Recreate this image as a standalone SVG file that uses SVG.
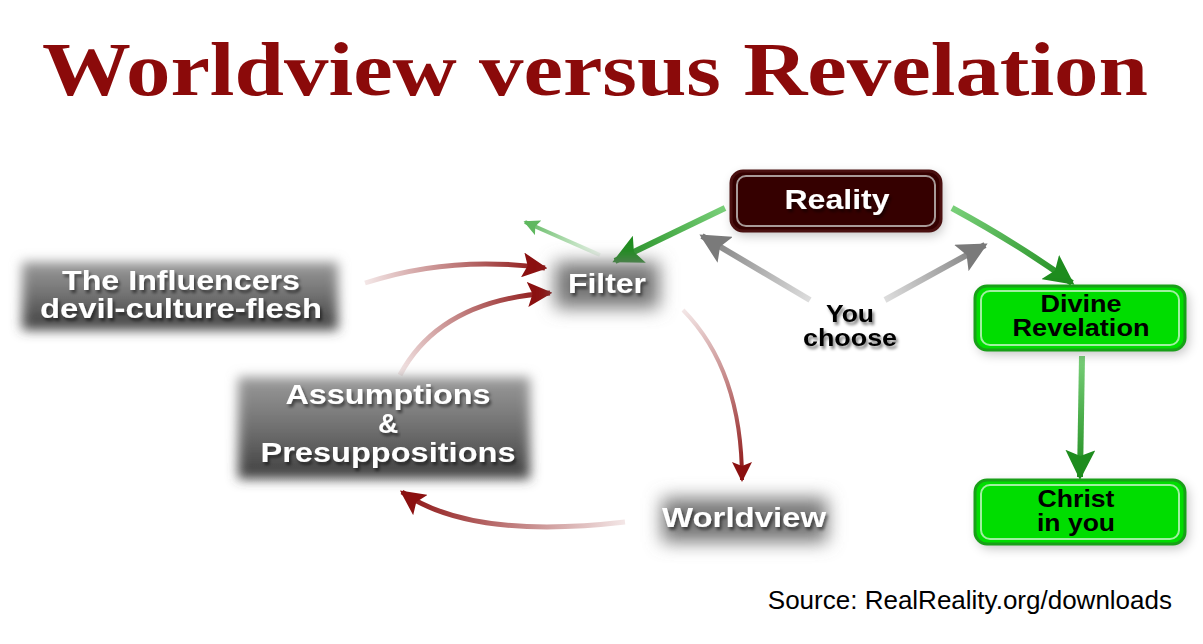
<svg xmlns="http://www.w3.org/2000/svg" width="1203" height="644" viewBox="0 0 1203 644">
<style>
.lbl{font-family:"Liberation Sans",Arial,sans-serif;font-weight:bold;text-anchor:middle}
.w{fill:#fff;font-size:28px}
.b{fill:#000;font-size:23px}
</style>
<defs>
<filter id="blur" x="-20%" y="-30%" width="140%" height="160%"><feGaussianBlur stdDeviation="6"/></filter>
<filter id="blur2" x="-30%" y="-50%" width="160%" height="200%"><feGaussianBlur stdDeviation="9"/></filter>
<filter id="ts" x="-10%" y="-30%" width="120%" height="160%"><feDropShadow dx="2" dy="3" stdDeviation="1.5" flood-color="#000" flood-opacity="0.5"/></filter>
<linearGradient id="gbox" x1="0" y1="0" x2="0" y2="1"><stop offset="0" stop-color="#9a9a9a"/><stop offset="0.5" stop-color="#707070"/><stop offset="1" stop-color="#3e3e3e"/></linearGradient>
<marker id="hg" viewBox="0 0 10 10" refX="9" refY="5" markerWidth="5" markerHeight="5" orient="auto" markerUnits="strokeWidth"><path d="M0,0 L10,5 L0,10 L2,5 Z" fill="#1e8c1e"/></marker>
<marker id="hgl" viewBox="0 0 10 10" refX="9" refY="5" markerWidth="4" markerHeight="4" orient="auto" markerUnits="strokeWidth"><path d="M0,0 L10,5 L0,10 L2,5 Z" fill="#5fb85f"/></marker>
<marker id="hy" viewBox="0 0 10 10" refX="9" refY="5" markerWidth="5" markerHeight="5" orient="auto" markerUnits="strokeWidth"><path d="M0,0 L10,5 L0,10 L2,5 Z" fill="#7a7a7a"/></marker>
<marker id="hr" viewBox="0 0 10 10" refX="9" refY="5" markerWidth="5" markerHeight="5" orient="auto" markerUnits="strokeWidth"><path d="M0,0 L10,5 L0,10 L2,5 Z" fill="#8b1010"/></marker>
<linearGradient id="g1" gradientUnits="userSpaceOnUse" x1="725" y1="208" x2="615" y2="262"><stop offset="0" stop-color="#7ad07a"/><stop offset="1" stop-color="#1e8c1e"/></linearGradient>
<linearGradient id="g2" gradientUnits="userSpaceOnUse" x1="600" y1="255" x2="525" y2="222"><stop offset="0" stop-color="#5fb85f" stop-opacity="0.1"/><stop offset="1" stop-color="#5fb85f"/></linearGradient>
<linearGradient id="g3" gradientUnits="userSpaceOnUse" x1="952" y1="208" x2="1072" y2="283"><stop offset="0" stop-color="#7ad07a"/><stop offset="1" stop-color="#1e8c1e"/></linearGradient>
<linearGradient id="g4" gradientUnits="userSpaceOnUse" x1="0" y1="355" x2="0" y2="478"><stop offset="0" stop-color="#7ad07a"/><stop offset="1" stop-color="#1e8c1e"/></linearGradient>
<linearGradient id="y1" gradientUnits="userSpaceOnUse" x1="810" y1="300" x2="702" y2="236"><stop offset="0" stop-color="#ddd"/><stop offset="1" stop-color="#7a7a7a"/></linearGradient>
<linearGradient id="y2" gradientUnits="userSpaceOnUse" x1="885" y1="300" x2="985" y2="245"><stop offset="0" stop-color="#ddd"/><stop offset="1" stop-color="#7a7a7a"/></linearGradient>
<linearGradient id="r1" gradientUnits="userSpaceOnUse" x1="365" y1="283" x2="545" y2="268"><stop offset="0" stop-color="#8b1010" stop-opacity="0.1"/><stop offset="1" stop-color="#8b1010"/></linearGradient>
<linearGradient id="r2" gradientUnits="userSpaceOnUse" x1="400" y1="375" x2="550" y2="293"><stop offset="0" stop-color="#8b1010" stop-opacity="0.1"/><stop offset="1" stop-color="#8b1010"/></linearGradient>
<linearGradient id="r3" gradientUnits="userSpaceOnUse" x1="683" y1="310" x2="742" y2="480"><stop offset="0" stop-color="#8b1010" stop-opacity="0.1"/><stop offset="1" stop-color="#8b1010"/></linearGradient>
<linearGradient id="r4" gradientUnits="userSpaceOnUse" x1="625" y1="522" x2="402" y2="492"><stop offset="0" stop-color="#8b1010" stop-opacity="0.1"/><stop offset="1" stop-color="#8b1010"/></linearGradient>
</defs>
<rect width="1203" height="644" fill="#fff"/>
<text x="595" y="95" font-family="'Liberation Serif','Times New Roman',serif" font-weight="bold" font-size="76" fill="#8b0a0a" text-anchor="middle" textLength="1106" lengthAdjust="spacingAndGlyphs">Worldview versus Revelation</text>

<g id="connectors" fill="none">
<path d="M725,208 L615,261" stroke="url(#g1)" stroke-width="6" marker-end="url(#hg)"/>
<path d="M600,255 L525,222" stroke="url(#g2)" stroke-width="4" marker-end="url(#hgl)"/>
<path d="M952,208 Q1020,245 1072,283" stroke="url(#g3)" stroke-width="6" marker-end="url(#hg)"/>
<path d="M1082,356 L1080,477" stroke="url(#g4)" stroke-width="6" marker-end="url(#hg)"/>
<path d="M810,300 L702,236" stroke="url(#y1)" stroke-width="6" marker-end="url(#hy)"/>
<path d="M885,300 L985,245" stroke="url(#y2)" stroke-width="6" marker-end="url(#hy)"/>
<path d="M365,283 Q450,255 545,268" stroke="url(#r1)" stroke-width="5" marker-end="url(#hr)"/>
<path d="M400,375 Q440,300 550,293" stroke="url(#r2)" stroke-width="5" marker-end="url(#hr)"/>
<path d="M683,310 Q742,370 742,480" stroke="url(#r3)" stroke-width="4" marker-end="url(#hr)"/>
<path d="M625,522 Q470,540 402,492" stroke="url(#r4)" stroke-width="5" marker-end="url(#hr)"/>
</g>

<g id="reality">
<rect x="733" y="175" width="210" height="60" rx="12" fill="#000" opacity="0.25" filter="url(#blur)"/>
<rect x="731" y="171" width="210" height="60" rx="12" fill="#350000" stroke="#4a1010" stroke-width="3"/>
<rect x="737" y="176" width="198" height="50" rx="9" fill="none" stroke="#a89a98" stroke-width="2"/>
<text class="lbl w" x="837" y="209" textLength="105" lengthAdjust="spacingAndGlyphs" filter="url(#ts)">Reality</text>
</g>
<g id="divine">
<rect x="978" y="290" width="210" height="64" rx="12" fill="#000" opacity="0.25" filter="url(#blur)"/>
<rect x="975" y="286" width="210" height="64" rx="12" fill="#00dd00" stroke="#18a018" stroke-width="3"/>
<rect x="981" y="291" width="198" height="54" rx="9" fill="none" stroke="#a0f0a0" stroke-width="2"/>
<text class="lbl b" x="1081" y="312" textLength="81" lengthAdjust="spacingAndGlyphs">Divine</text>
<text class="lbl b" x="1081" y="336" textLength="137" lengthAdjust="spacingAndGlyphs">Revelation</text>
</g>
<g id="christ">
<rect x="978" y="484" width="210" height="64" rx="12" fill="#000" opacity="0.25" filter="url(#blur)"/>
<rect x="975" y="480" width="210" height="64" rx="12" fill="#00dd00" stroke="#18a018" stroke-width="3"/>
<rect x="981" y="485" width="198" height="54" rx="9" fill="none" stroke="#a0f0a0" stroke-width="2"/>
<text class="lbl b" x="1076" y="507" textLength="77" lengthAdjust="spacingAndGlyphs">Christ</text>
<text class="lbl b" x="1076" y="531" textLength="78" lengthAdjust="spacingAndGlyphs">in you</text>
</g>
<g id="filter">
<rect x="555" y="262" width="104" height="46" fill="#777" filter="url(#blur2)"/>
<text class="lbl w" x="607" y="293" textLength="78" lengthAdjust="spacingAndGlyphs" filter="url(#ts)">Filter</text>
</g>
<g id="influencers">
<rect x="22" y="262" width="316" height="68" fill="url(#gbox)" filter="url(#blur)"/>
<text class="lbl w" x="181" y="290" textLength="238" lengthAdjust="spacingAndGlyphs" filter="url(#ts)">The Influencers</text>
<text class="lbl w" x="181" y="318" textLength="282" lengthAdjust="spacingAndGlyphs" filter="url(#ts)">devil-culture-flesh</text>
</g>
<g id="assumptions">
<rect x="238" y="377" width="292" height="102" fill="url(#gbox)" filter="url(#blur)"/>
<text class="lbl w" x="388" y="404" textLength="205" lengthAdjust="spacingAndGlyphs" filter="url(#ts)">Assumptions</text>
<text class="lbl w" x="388" y="433" filter="url(#ts)">&amp;</text>
<text class="lbl w" x="388" y="462" textLength="255" lengthAdjust="spacingAndGlyphs" filter="url(#ts)">Presuppositions</text>
</g>
<g id="worldview">
<rect x="662" y="498" width="165" height="44" fill="#777" filter="url(#blur2)"/>
<text class="lbl w" x="744" y="527" textLength="164" lengthAdjust="spacingAndGlyphs" filter="url(#ts)">Worldview</text>
</g>
<g id="youchoose">
<text class="lbl b" x="850" y="322" textLength="48" lengthAdjust="spacingAndGlyphs" filter="url(#ts)">You</text>
<text class="lbl b" x="850" y="346" textLength="94" lengthAdjust="spacingAndGlyphs" filter="url(#ts)">choose</text>
</g>
<text x="1172" y="609" font-family="'Liberation Sans',Arial,sans-serif" font-size="26" fill="#000" text-anchor="end">Source: RealReality.org/downloads</text>
</svg>
